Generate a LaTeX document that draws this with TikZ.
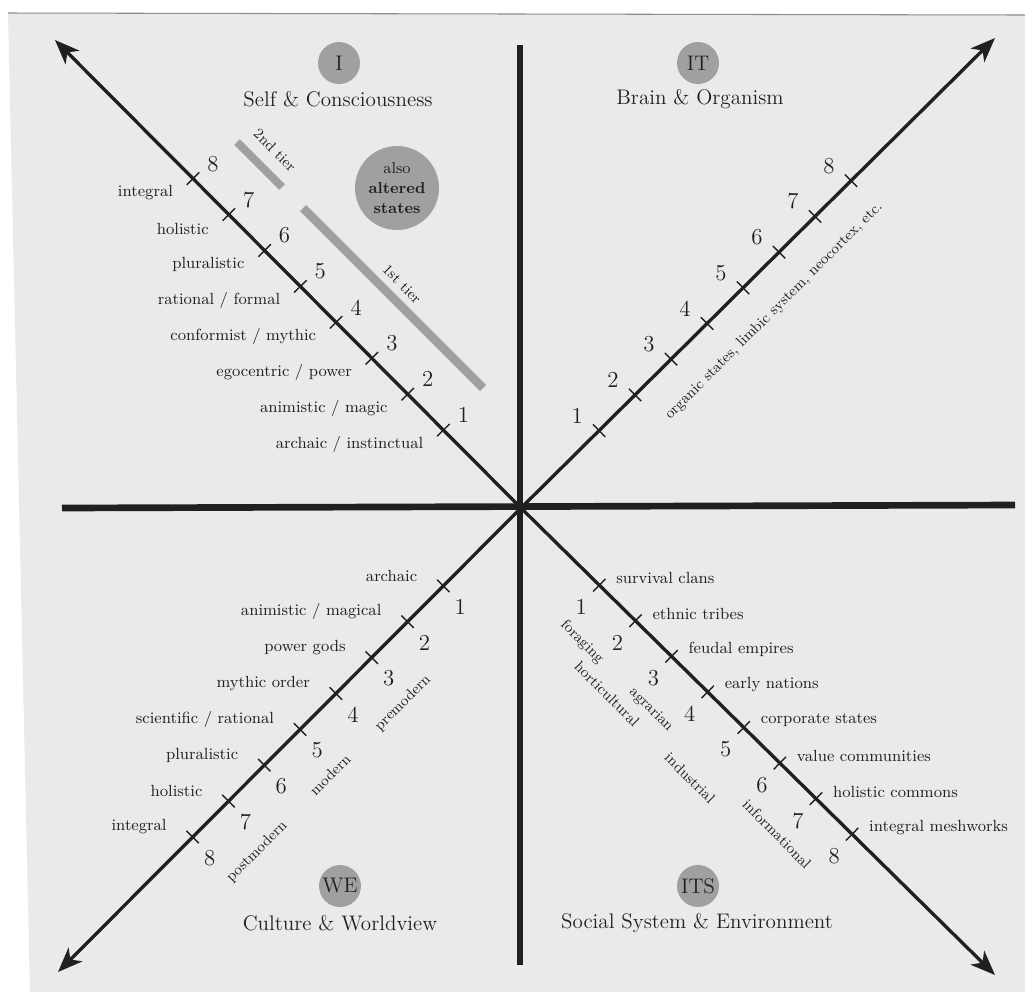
\documentclass[tikz,border=0pt]{standalone}
\usetikzlibrary{calc, positioning, arrows.meta}

\definecolor{paper}{RGB}{234,234,234}
\definecolor{ink}{RGB}{32,32,32}
\definecolor{badgegray}{RGB}{160,160,160}

\begin{document}
\begin{tikzpicture}[
    % one unit = one pixel of the 1025 x 992 sheet, y pointing down
    x=0.02cm, y=-0.02cm,
    axis/.style={line width=3.8pt, ink},
    diag/.style={line width=1.9pt, ink, -{Stealth[length=14pt, width=11pt, inset=4pt]}},
    tickmark/.style={line width=0.8pt, ink},
    badge/.style={circle, fill=badgegray, minimum size=0.84cm, inner sep=0pt, text=ink, font=\fontsize{12}{12}\selectfont},
    quadname/.style={text=ink, font=\fontsize{12}{14}\selectfont},
    stage/.style={text=ink, inner sep=1pt, font=\fontsize{9.2}{11}\selectfont},
    num/.style={text=ink, inner sep=1pt, font=\fontsize{13}{13}\selectfont},
    era/.style={text=ink, inner sep=0pt, font=\fontsize{8.5}{10}\selectfont},
    tier/.style={line width=4.5pt, badgegray}
]
    \useasboundingbox (0,0) rectangle (1025,992);

    % 1. Sheet
    \fill[paper] (8,13) -- (1025,15) -- (1025,992) -- (30,992) -- cycle;
    \draw[black!45, line width=0.6pt] (8,13) -- (1025,15);

    % 2. Axes and the four diagonals
    \coordinate (O) at (521,508);
    \coordinate (top) at (520,45);
    \coordinate (bot) at (520,965);
    \coordinate (lft) at (62,508);
    \coordinate (rgt) at (1015,505);
    \coordinate (ul) at (55,40);
    \coordinate (ur) at (995,38);
    \coordinate (ll) at (58,972);
    \coordinate (lr) at (995,975);

    \draw[axis] (top) -- (bot);
    \draw[axis] (lft) -- (rgt);
    \foreach \q in {ul,ur,ll,lr}
        \draw[diag] (O) -- (\q);

    % 3. Eight ticks on every diagonal
    \foreach \q in {ul,ur,ll,lr}{
        \foreach \k in {1,...,8}{
            \pgfmathsetmacro\dist{2.2+1.014*(\k-1)}
            \coordinate (\q\k) at ($(O)!\dist cm!(\q)$);
            \draw[tickmark] ($(\q\k)!5pt!90:(O)$) -- ($(\q\k)!5pt!-90:(O)$);
        }
    }

    % 4. Level numbers
    \foreach \k in {1,...,8}{
        \node[num] (ulnum\k) at ($(ul\k)+(20,-15)$) {\k};
        \node[num] (urnum\k) at ($(ur\k)+(-22,-15)$) {\k};
        \node[num] (llnum\k) at ($(ll\k)+(17,21)$) {\k};
        \node[num] (lrnum\k) at ($(lr\k)+(-18,22)$) {\k};
    }

    % 5. Stage labels
    \foreach \k/\t in {1/{archaic / instinctual}, 2/{animistic / magic}, 3/{egocentric / power},
                       4/{conformist / mythic}, 5/{rational / formal}, 6/pluralistic, 7/holistic, 8/integral}
        \node[stage, anchor=east] (ullab\k) at ($(ul\k)+(-18,14)$) {\t};
    \foreach \k/\t in {1/archaic, 2/{animistic / magical}, 3/{power gods}, 4/{mythic order},
                       5/{scientific / rational}, 6/pluralistic, 7/holistic, 8/integral}
        \node[stage, anchor=east] (lllab\k) at ($(ll\k)+(-24,-10)$) {\t};
    \foreach \k/\t in {1/{survival clans}, 2/{ethnic tribes}, 3/{feudal empires}, 4/{early nations},
                       5/{corporate states}, 6/{value communities}, 7/{holistic commons}, 8/{integral meshworks}}
        \node[stage, anchor=west] (lrlab\k) at ($(lr\k)+(15,-7)$) {\t};

    % 6. Quadrant badges and titles
    \node[badge] (I) at (339,63) {I};
    \node[quadname] (Ititle) at (338,99) {Self \& Consciousness};
    \node[badge] (IT) at (698,63) {IT};
    \node[quadname] (ITtitle) at (700,99) {Brain \& Organism};
    \node[badge] (WE) at (340,886) {WE};
    \node[quadname] (WEtitle) at (340,923) {Culture \& Worldview};
    \node[badge] (ITS) at (698,886) {ITS};
    \node[quadname] (ITStitle) at (697,923) {Social System \& Environment};

    \node[badge, minimum size=1.68cm, align=center, font=\fontsize{9}{11.5}\selectfont] (altered) at (397,188)
        {also\\\textbf{altered}\\\textbf{states}};

    % 7. Tiers
    \draw[tier] (237,142) -- (282,187);
    \draw[tier, line width=5pt] (303,208) -- (483,388);
    \node[era, rotate=-45] (tier2) at (275,150) {2nd tier};
    \node[era, rotate=-45] (tier1) at (402,284) {1st tier};

    % 8. Side notes along the diagonals
    \node[era, rotate=45] (organic) at (774,311) {organic states, limbic system, neocortex, etc.};
    \node[era, rotate=45] (premodern) at (403,703) {premodern};
    \node[era, rotate=45] (modern) at (330,775) {modern};
    \node[era, rotate=45] (postmodern) at (257,852) {postmodern};
    \node[era, rotate=-45] (foraging) at (582,642) {foraging};
    \node[era, rotate=-45] (horticultural) at (607,694) {horticultural};
    \node[era, rotate=-45] (agrarian) at (651,710) {agrarian};
    \node[era, rotate=-45] (industrial) at (690,778) {industrial};
    \node[era, rotate=-45] (informational) at (777,834) {informational};
\end{tikzpicture}
\end{document}
